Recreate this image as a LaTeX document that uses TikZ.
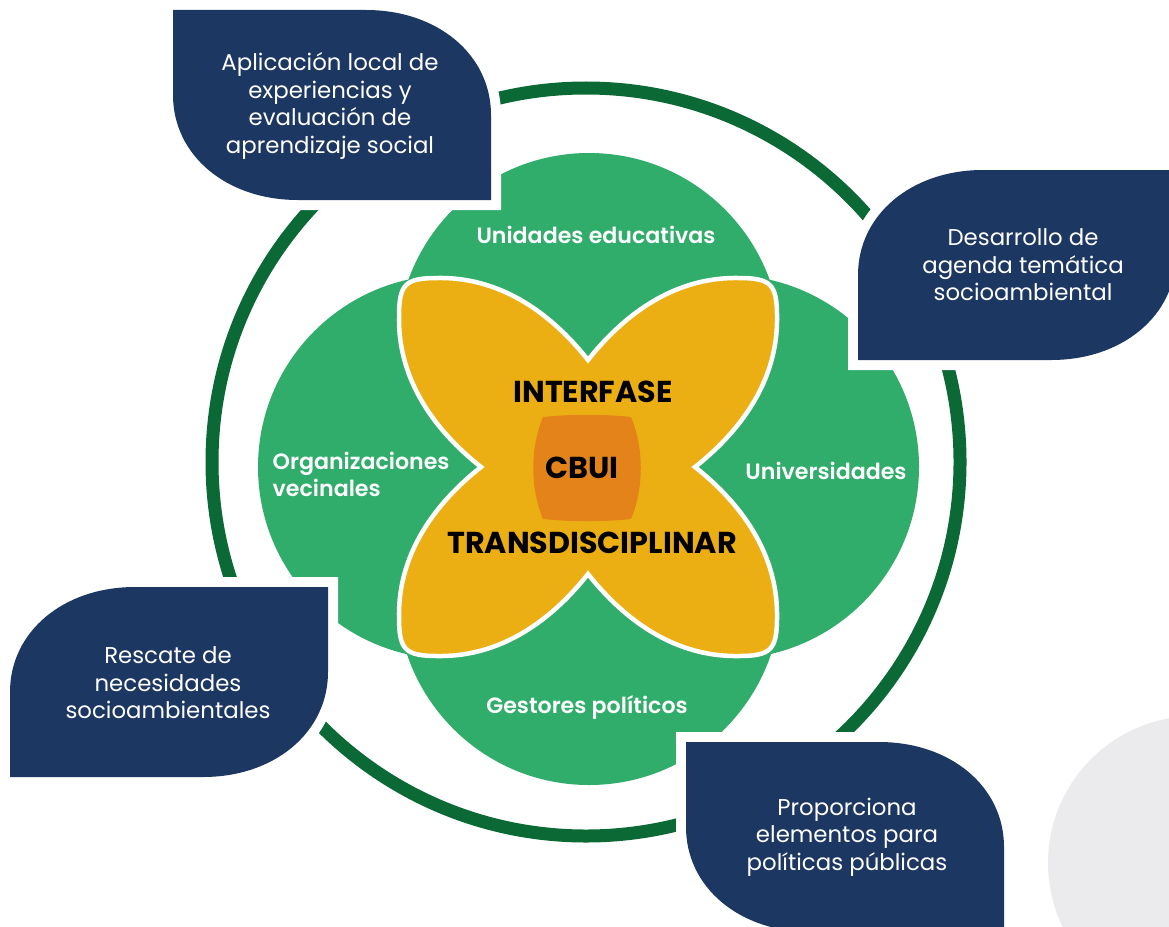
\documentclass[tikz,border=0pt]{standalone}
\usepackage{fontspec}
\setmainfont{Poppins}
\newfontface\semibold{Poppins SemiBold}
\definecolor{navy}{HTML}{1D3763}
\definecolor{leafgreen}{HTML}{30AD6B}
\definecolor{ringgreen}{HTML}{0A6934}
\definecolor{petal}{HTML}{ECAF13}
\definecolor{core}{HTML}{E3831A}
\definecolor{backdisc}{HTML}{EBEBED}
\tikzset{
  leaf/.pic={
    \fill[navy, preaction={draw=white, line width=2mm}]
      (0,0) -- (193,0) .. controls (265,0) and (318,45) .. (318,105)
      -- (318,190) -- (125,190) .. controls (53,190) and (0,145) .. (0,85) -- cycle;
  }
}
\begin{document}
\begin{tikzpicture}[x=0.1mm, y=-0.1mm,
  leaftxt/.style={text=white, align=center, inner sep=0pt, font=\fontsize{6.5}{7.8}\selectfont},
  grptxt/.style={text=white, inner sep=0pt, font=\semibold\fontsize{6.3}{7.8}\selectfont},
  coretxt/.style={text=black, inner sep=0pt, font=\bfseries\fontsize{8.6}{10}\selectfont}]
\clip (0,0) rectangle (1169,926);
\fill[backdisc] (1195,863) circle[radius=147];
\draw[ringgreen, line width=1.3mm] (586,462) circle[radius=374];
\foreach \cx/\cy in {589/345, 589/593, 450/467, 727/467}
{
    \fill[leafgreen] (\cx,\cy) circle[radius=192];
}
\fill[petal, draw=white, line width=0.45mm, shift={(588,467)}]
  (0,-107) .. controls (-30,-145) and (-80,-190) .. (-150,-189)
  .. controls (-183,-189) and (-189,-183) .. (-189,-150)
  .. controls (-190,-80) and (-145,-30) .. (-107,0)
  .. controls (-145,30) and (-190,80) .. (-189,150)
  .. controls (-189,183) and (-183,189) .. (-150,189)
  .. controls (-80,190) and (-30,145) .. (0,107)
  .. controls (30,145) and (80,190) .. (150,189)
  .. controls (183,189) and (189,183) .. (189,150)
  .. controls (190,80) and (145,30) .. (107,0)
  .. controls (145,-30) and (190,-80) .. (189,-150)
  .. controls (189,-183) and (183,-189) .. (150,-189)
  .. controls (80,-190) and (30,-145) .. (0,-107) -- cycle;
\fill[core, shift={(587,468)}]
  (-44,-51) .. controls (-15,-54) and (15,-54) .. (44,-51)
  .. controls (57,-20) and (57,20) .. (44,51)
  .. controls (15,54) and (-15,54) .. (-44,51)
  .. controls (-57,20) and (-57,-20) .. (-44,-51) -- cycle;

\node[grptxt, anchor=base] (educ) at (596,243) {Unidades educativas};
\node[grptxt, anchor=base] (univ) at (826,479) {Universidades};
\node[grptxt, anchor=base] (gest) at (587,713) {Gestores políticos};
\node[grptxt, align=left, anchor=north west] (orgs) at (272,451) {Organizaciones\\vecinales};
\node[coretxt, anchor=base] (interfase) at (593,402) {INTERFASE};
\node[coretxt, anchor=base] (cbui) at (582,478) {CBUI};
\node[coretxt, anchor=base] (transd) at (592,553) {TRANSDISCIPLINAR};

\pic at (173,10) {leaf};
\pic[xscale=-1] at (1176,170) {leaf};
\pic[xscale=-1] at (328,587) {leaf};
\pic at (686,742) {leaf};
\node[leaftxt] (aplica) at (330,106) {Aplicación local de\\experiencias y\\evaluación de\\aprendizaje social};
\node[leaftxt] (agenda) at (1023,265) {Desarrollo de\\agenda temática\\socioambiental};
\node[leaftxt] (rescate) at (168,683) {Rescate de\\necesidades\\socioambientales};
\node[leaftxt] (politicas) at (847,837) {Proporciona\\elementos para\\políticas públicas};
\end{tikzpicture}
\end{document}
